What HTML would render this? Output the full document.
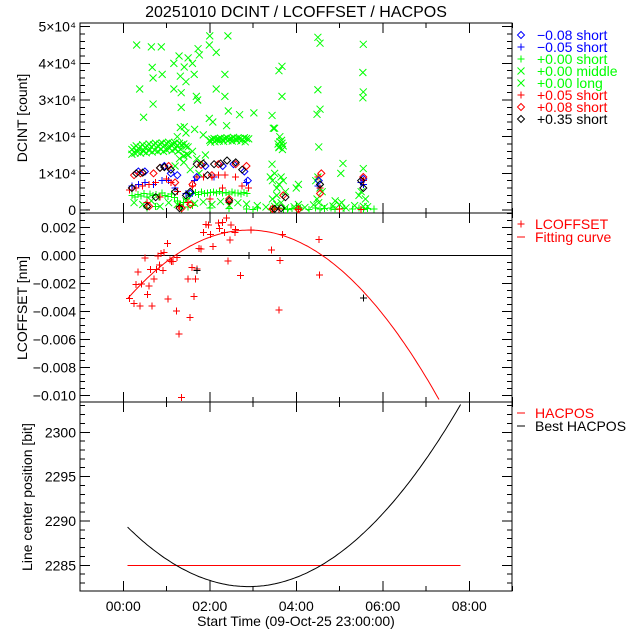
<!DOCTYPE html>
<html><head><meta charset="utf-8"><style>
html,body{margin:0;padding:0;background:#fff;}
svg{display:block;font-family:"Liberation Sans",sans-serif;}
</style></head><body>
<svg id="chart" width="640" height="640" viewBox="0 0 640 640" xmlns="http://www.w3.org/2000/svg">
<rect x="0" y="0" width="640" height="640" fill="#fff"/>
<text x="296" y="17" font-size="16" text-anchor="middle">20251010 DCINT / LCOFFSET / HACPOS</text>
<g id="layer" shape-rendering="crispEdges"></g>
</svg>
<script>
// ---------- data ----------
const xTickHours = [0,2,4,6,8];
const xTickLabels = ["00:00","02:00","04:00","06:00","08:00"];
const p1Ticks = [0,10,20,30,40,50];
const p1TickLabels = ["0","1×10⁴","2×10⁴","3×10⁴","4×10⁴","5×10⁴"];
const p2Ticks = [0.002,0,-0.002,-0.004,-0.006,-0.008,-0.010];
const p2TickLabels = ["0.002","0.000","−0.002","−0.004","−0.006","−0.008","−0.010"];
const p3Ticks = [2285,2290,2295,2300];
const p3TickLabels = ["2285","2290","2295","2300"];

// panel 1 (values in thousands of counts)
const longT = [0.31,0.38,0.47,0.65,0.67,0.69,0.69,0.88,0.9,1.17,1.17,1.29,1.32,1.34,1.34,1.41,1.45,1.5,1.6,1.64,1.69,1.72,1.73,1.76,2.0,1.99,2.15,2.15,2.35,2.35,2.42,2.43,1.99,2.07,2.39,2.69,3.02,3.44,3.47,3.6,3.67,3.67,3.62,1.32,1.41,3.5,3.67,3.6,4.5,4.55,4.5,4.55,4.48,4.52,5.08,5.55,5.54,5.55,5.54,5.55,5.03,4.05,3.44];
const longV = [45,33,25.3,44.5,38.9,36,28.9,44.5,37,40,33,42,36.5,32,28,39,35,41.5,40,37,31,30,44,42.3,47.5,45,43,33,37,31,47.5,27,25,24,23,26,26.5,25.8,22.3,38,39.2,31,20,22.5,22.7,22.3,18.2,17,47.1,45.5,32.8,27.5,26.1,17.2,12.7,45.2,37.5,32.2,30.6,11.3,10,7,12.5];
const midT = [0.2,0.25,0.3,0.35,0.4,0.45,0.5,0.55,0.6,0.65,0.7,0.75,0.8,0.85,0.9,0.95,1.0,1.05,1.1,1.15,1.2,1.25,1.3,1.35,1.4,1.45,1.5,
 0.2,0.27,0.33,0.4,0.47,0.53,0.6,0.67,0.73,0.8,0.87,0.93,1.0,1.07,1.13,1.2,1.27,1.33,1.4,1.47,
 2.0,2.05,2.1,2.15,2.2,2.25,2.3,2.35,2.4,2.45,2.5,2.55,2.6,2.65,2.7,2.75,2.8,2.85,2.9,
 2.02,2.12,2.22,2.32,2.42,2.52,2.62,2.72,2.82,3.58,3.62,3.66,3.7,3.6,3.68,
 1.2,1.3,1.4,1.5,1.6,1.7,1.8,1.9,1.25,1.45,1.65,1.85,1.55,1.75,
 3.4,3.45,3.5,3.55,3.6,3.65,3.7,3.75,3.45,3.55,3.65,3.5,4.45,4.5,4.55,4.6,4.48,4.52,4.0,4.05,4.9,5.0,5.05,5.45,5.5,5.6,5.55,
 0.25,0.45,0.65,0.85,1.05,1.25,1.45,1.65,1.85,2.05,2.25,2.45,2.65,2.85,3.1,3.3,3.55,3.75,3.95,4.2,4.4,4.65,4.85,5.15,5.35,5.65];
const midV = [16.5,17,17.5,16.8,17.2,17.8,17,17.5,18,17.2,17.8,18.2,17.5,18,18.3,17.6,18.2,18.5,17.8,18,18.3,17.5,18.2,17.8,18,17.4,17.2,
 15.2,15.5,15.8,15.5,16,15.6,16.2,15.8,16.3,16,16.5,16,16.4,16.8,16.2,16.6,16,16.5,14.8,15.2,
 19,19.3,19.5,19.2,19.4,19.6,19.2,19.5,19.7,19.3,19.5,19.8,19.4,19.6,19.5,19.2,19.7,19.5,19.4,
 18.5,18.6,18.8,18.7,18.9,18.8,19,18.8,18.6,18,18.6,19,17.5,17.2,16.5,
 12,14,13,15,16,14,13,15,20,21,22,20.5,11,10,
 9,8,10,6,7,9,8,5,3,4,2,1,8,9,6,5,3,2,6,1.5,2.5,1.5,2,4,5,3,1,
 2,1.5,2.5,1,2,1.5,2.5,1.8,2.2,1.5,2.3,1.2,2,1.6,1.2,0.8,1.5,0.6,0.9,0.7,1.4,0.8,1.1,0.6,1.2,0.9];
const shortT = [0.2,0.27,0.34,0.41,0.48,0.55,0.62,0.69,0.76,0.83,0.9,0.97,1.04,1.11,1.18,1.25,1.32,1.39,1.46,1.53,1.6,1.67,1.74,1.81,1.88,1.95,2.02,2.09,2.16,2.23,2.3,2.37,2.44,2.51,2.58,2.65,2.72,2.79,2.86,
 0.55,0.75,1.35,1.5,1.6,2.0,2.45,2.85,3.0,3.1,3.4,3.5,3.6,3.7,3.8,3.9,4.0,4.1,4.3,4.45,4.55,4.65,4.8,4.9,5.0,5.1,5.3,5.45,5.55,5.65,5.8];
const shortV = [4,3.5,4.2,3.8,4.5,3.6,4.4,3.9,4.2,3.5,4.6,4,3.7,4.3,3.4,2.5,1.5,2,3,4,4.5,4.8,4.2,4.9,4.5,4.6,4.8,4.9,4.6,5,4.7,4.8,4.4,4.9,4.7,4.6,4.3,4.8,4.5,
 0.5,1,0.3,0.8,1.2,0.5,0.4,0.3,0.2,0.5,0.3,0.2,0.6,0.3,0.2,0.4,0.3,0.5,0.2,0.6,0.3,0.4,0.5,0.2,0.3,0.4,0.3,0.5,0.2,0.4,0.3];
const blkDT = [0.2,0.3,0.45,0.55,0.75,0.85,0.95,1.1,1.2,1.3,1.45,1.55,1.7,1.85,1.95,2.1,2.25,2.4,2.45,2.6,2.75,3.5,3.65,3.75,4.55,5.55,5.5];
const blkDV = [6,10,10.2,1,3.5,11.5,11.7,11,5,0.5,4,5,12.5,12.7,9.5,12.5,12.7,13.5,2.5,13,11,0.3,0.5,3.5,7,6,8];
const redDT = [0.25,0.4,0.6,0.7,0.85,1.05,1.2,1.35,1.55,1.6,1.8,2.05,2.2,2.45,2.6,2.85,3.45,3.7,4.58,4.55,5.55,4.05];
const redDV = [9.5,10,1,10,11.5,12,7.5,0.5,1.5,7,12.3,9.5,12.5,3,12.5,12,0.3,4,10,4.5,9,0.2];
const bluDT = [0.35,0.5,0.95,1.1,1.25,1.55,1.7,1.9,2.3,2.55,2.8,2.88,4.52,5.55];
const bluDV = [10.5,10.5,12,10,9.5,4.5,9,12,12,12.5,10.5,8,8,8.5];
const bluPT = [0.2,0.35,0.5,0.7,0.9,1.05,1.2,1.45,1.65,1.85,2.1,2.35,2.6,2.85,4.5,5.55,5.5];
const bluPV = [6.5,7,7.5,7,8,8,6,4.5,8,9,9,9.5,9,7.5,6.5,7,7.5];
const redPT = [0.15,0.3,0.45,0.55,0.6,0.75,0.85,1.0,1.1,1.25,1.3,1.5,1.6,1.7,1.85,2.0,2.05,2.2,2.3,2.35,2.4,2.45,2.6,2.75,2.9,3.45,3.6,4.05,4.55,4.5,5.0,5.55,5.5];
const redPV = [5.5,6,6.5,2,7,7.5,3.5,8.5,7.5,5,1,2,6.5,9,9,3,9,9.5,6,9.5,-1.5,2,9,6.5,6,0.3,0.3,0.2,6,9,0.3,8,0.2];

// panel 2
const lcT = [0.15,0.25,0.34,0.29,0.39,0.42,0.5,0.56,0.6,0.63,0.67,0.71,0.77,0.8,0.84,0.87,0.92,0.94,1.02,1.04,1.08,1.12,1.15,1.23,1.24,1.35,1.29,1.5,1.54,1.59,1.64,1.67,1.71,1.75,1.8,1.86,1.91,1.97,2.02,2.08,2.2,2.23,2.29,2.34,2.39,2.42,2.47,2.49,2.58,2.6,2.71,2.95,3.43,3.6,3.63,3.68,4.53,4.54];
const lcV = [-3.07,-3.43,-1.19,-2.07,-3.62,-2.05,-0.21,-2.79,-2.19,-1.0,-3.62,-1.71,-1.0,-0.05,-0.69,0.14,-1.07,0.21,0.86,-3.12,-0.34,-0.46,-0.46,-3.98,-0.14,-10.17,-5.62,-1.71,-4.43,-0.86,-2.93,-1.71,-0.98,0.5,0.45,1.62,2.21,2.16,1.5,0.64,2.31,1.9,2.33,1.62,2.66,-0.41,1.09,2.16,1.62,1.86,-1.43,1.81,0.38,-3.91,-0.36,1.5,1.14,-1.39];
const lcBlackT = [5.56,1.7,2.91];
const lcBlackV = [-3.05,-1.1,0.0];
const fitPeakT = 2.9, fitPeakV = 0.0018, fitCoef = 0.000625, fitStart = 0.1, fitEnd = 7.8;

// panel 3
const hacLevel = 2285;
const bestPeakT = 2.9, bestMin = 2282.6, bestCoef = 0.855, hacStart = 0.1, hacEnd = 7.8;

// ---------- drawing ----------
const NS = "http://www.w3.org/2000/svg";
const layer = document.getElementById('layer');
const X0 = 80, X1 = 512;
const P = [{top:23,bot:213},{top:213,bot:402},{top:402,bot:591}];
const xs = t => 80 + (t + 1) * 43.25;
const y1 = v => 210 - v * 3.666;
const y2 = v => 255.3 - v * 14000;
const y3 = v => 565.3 - (v - 2285) * 8.87;

function mk(tag, attrs, parent) {
  const e = document.createElementNS(NS, tag);
  for (const k in attrs) e.setAttribute(k, attrs[k]);
  (parent || layer).appendChild(e);
  return e;
}
function line(x1, yA, x2, yB, c, g) {
  return mk('line', {x1:x1, y1:yA, x2:x2, y2:yB, stroke:c||'#000', 'stroke-width':1}, g);
}
function text(x, y, s, opts, g) {
  const e = mk('text', Object.assign({x:x, y:y, 'font-size':14, 'shape-rendering':'auto'}, opts||{}), g);
  e.textContent = s;
  return e;
}

P.forEach((p, i) => {
  const f = mk('rect', {x:X0, y:p.top, width:X1-X0, height:p.bot-p.top, fill:'none', stroke:'#000', 'stroke-width':1});
  
  
  for (let h = -1; h <= 9; h++) {
    const x = xs(h);
    const len = (h % 2 === 0) ? 10 : 5;
    line(x, p.bot, x, p.bot - len);
    line(x, p.top, x, p.top + len);
  }
});
const xg = mk('g', {});


xTickHours.forEach((h, i) => text(xs(h), 611, xTickLabels[i], {'text-anchor':'middle'}, xg));
const xt = text(296, 626, "Start Time (09-Oct-25 23:00:00)", {'text-anchor':'middle'});



function yAxis(ticks, labels, fy, minorStep, lo, hi, name, p) {
  const g = mk('g', {});
  
  
  ticks.forEach((v, i) => {
    const y = fy(v);
    line(X0, y, X0 + 10, y, '#000', g);
    line(X1, y, X1 - 10, y, '#000', g);
    text(X0 - 4, y + 5, labels[i], {'text-anchor':'end'}, g);
  });
  for (let v = lo; v <= hi + 1e-9; v += minorStep) {
    const y = fy(v);
    if (y < p.top || y > p.bot) continue;
    line(X0, y, X0 + 5, y, '#000', g);
    line(X1, y, X1 - 5, y, '#000', g);
  }
}
yAxis(p1Ticks, p1TickLabels, y1, 2, 0, 50, 'panel-1-y-axis', P[0]);
yAxis(p2Ticks, p2TickLabels, y2, 0.0005, -0.0105, 0.003, 'panel-2-y-axis', P[1]);
yAxis(p3Ticks, p3TickLabels, y3, 1, 2282, 2303, 'panel-3-y-axis', P[2]);

function ytitle(x, y, s, name) {
  const e = text(x, y, s, {'text-anchor':'middle', transform:'rotate(-90 ' + x + ' ' + y + ')'});
  
  
}
ytitle(27, 118, "DCINT [count]", 'panel-1-y-title');
ytitle(27, 308, "LCOFFSET [nm]", 'panel-2-y-title');
ytitle(32, 497, "Line center position [bit]", 'panel-3-y-title');

function marker(type, x, y, c, g) {
  const s = 3.5;
  if (type === '+') {
    line(x - s, y, x + s, y, c, g); line(x, y - s, x, y + s, c, g);
  } else if (type === 'x') {
    const a = mk('path', {d:`M${x-s},${y-s}L${x+s},${y+s}M${x-s},${y+s}L${x+s},${y-s}`, stroke:c, 'stroke-width':1, fill:'none', 'shape-rendering':'auto'}, g);
  } else {
    mk('polygon', {points:`${x},${y-s} ${x+s},${y} ${x},${y+s} ${x-s},${y}`, fill:'none', stroke:c, 'stroke-width':1, 'shape-rendering':'auto'}, g);
  }
}
function series(T, V, type, c, fy, name, p) {
  const g = mk('g', {});
  
  
  T.forEach((t, i) => {
    const y = fy(V[i]);
    if (y < p.top || y > p.bot) return;
    marker(type, xs(t), y, c, g);
  });
}
const G = '#00ff00';
series(midT, midV, 'x', G, y1, 'series-000-middle', P[0]);
series(longT, longV, 'x', G, y1, 'series-000-long', P[0]);
series(shortT, shortV, '+', G, y1, 'series-000-short', P[0]);
series(bluPT, bluPV, '+', '#0000ff', y1, 'series-m005-short', P[0]);
series(redPT, redPV, '+', '#ff0000', y1, 'series-p005-short', P[0]);
series(bluDT, bluDV, 'd', '#0000ff', y1, 'series-m008-short', P[0]);
series(redDT, redDV, 'd', '#ff0000', y1, 'series-p008-short', P[0]);
series(blkDT, blkDV, 'd', '#000000', y1, 'series-p035-short', P[0]);

const zl = line(X0, y2(0), X1, y2(0));


series(lcT, lcV.map(v => v / 1000), '+', '#ff0000', y2, 'lcoffset-points', P[1]);
series(lcBlackT, lcBlackV.map(v => v / 1000), '+', '#000000', y2, 'lcoffset-points-black', P[1]);
let fp = [];
for (let t = fitStart; t <= fitEnd; t += 0.05) {
  const v = fitPeakV - fitCoef * (t - fitPeakT) * (t - fitPeakT);
  const y = y2(v);
  if (y > P[1].bot) break;
  fp.push(xs(t).toFixed(1) + ',' + y.toFixed(1));
}
const fc = mk('polyline', {points:fp.join(' '), fill:'none', stroke:'#ff0000', 'stroke-width':1, 'shape-rendering':'auto'});



const hl = line(xs(hacStart), y3(hacLevel), xs(hacEnd), y3(hacLevel), '#ff0000');


let bp = [];
for (let t = hacStart; t <= hacEnd + 1e-9; t += 0.05) {
  const v = bestMin + bestCoef * (t - bestPeakT) * (t - bestPeakT);
  bp.push(xs(t).toFixed(1) + ',' + y3(v).toFixed(1));
}
const bc = mk('polyline', {points:bp.join(' '), fill:'none', stroke:'#000', 'stroke-width':1, 'shape-rendering':'auto'});



const leg1 = [['d','#0000ff','−0.08 short'],['+','#0000ff','−0.05 short'],['+',G,'+0.00 short'],['x',G,'+0.00 middle'],['x',G,'+0.00 long'],['+','#ff0000','+0.05 short'],['d','#ff0000','+0.08 short'],['d','#000000','+0.35 short']];
leg1.forEach((L, i) => {
  const g = mk('g', {});
  
  
  const y = 35 + i * 12;
  marker(L[0], 521, y, L[1], g);
  text(537, y + 5, L[2], {fill:L[1], 'font-size':14}, g);
});
const leg2 = [['+','#ff0000','LCOFFSET',224],['-','#ff0000','Fitting curve',237],['-','#ff0000','HACPOS',413],['-','#000000','Best HACPOS',426]];
leg2.forEach(L => {
  const g = mk('g', {});
  
  
  if (L[0] === '+') marker('+', 521, L[3], L[1], g);
  else line(517, L[3], 525, L[3], L[1], g);
  text(535, L[3] + 5, L[2], {fill:L[1], 'font-size':14}, g);
});
</script>
</body></html>
